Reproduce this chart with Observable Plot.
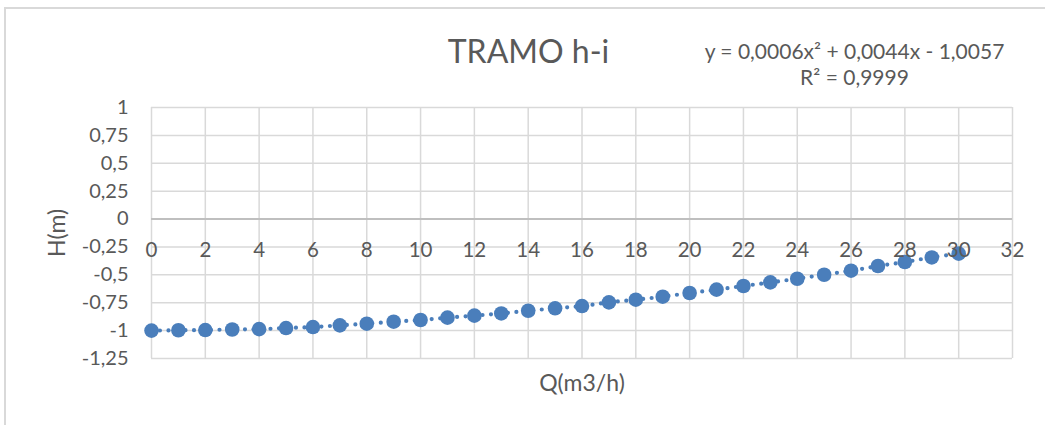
<!DOCTYPE html>
<html>
<head>
<meta charset="utf-8">
<script src="https://cdn.jsdelivr.net/npm/d3@7"></script>
<script src="https://cdn.jsdelivr.net/npm/@observablehq/plot@0.6"></script>
<style>
  html, body { margin: 0; padding: 0; background: #fff; }
  #wrap { position: relative; width: 1045px; height: 425px; overflow: hidden; }
  #border { position: absolute; left: 4px; top: 7px; width: 1200px; height: 600px; border: 2px solid #d9d9d9; box-sizing: border-box; }
  #chart { position: absolute; left: 0; top: 0; }
</style>
</head>
<body>
<div id="wrap"><div id="border"></div><div id="chart"></div></div>
<script>
const Q = [0,1,2,3,4,5,6,7,8,9,10,11,12,13,14,15,16,17,18,19,20,21,22,23,24,25,26,27,28,29,30];
const H = [-1.0,-0.997,-0.995,-0.99,-0.987,-0.977,-0.968,-0.953,-0.938,-0.92,-0.905,-0.884,-0.866,-0.846,-0.822,-0.80,-0.78,-0.747,-0.723,-0.696,-0.663,-0.633,-0.60,-0.568,-0.535,-0.499,-0.463,-0.421,-0.385,-0.344,-0.31];
const xTicks = [0,2,4,6,8,10,12,14,16,18,20,22,24,26,28,30,32];
const yTicks = [1,0.75,0.5,0.25,0,-0.25,-0.5,-0.75,-1,-1.25];
const yTickLabels = ["1","0,75","0,5","0,25","0","-0,25","-0,5","-0,75","-1","-1,25"];
const title = "TRAMO h-i";
const equation = "y = 0,0006x² + 0,0044x - 1,0057";
const rSquared = "R² = 0,9999";
const xLabel = "Q(m3/h)";
const yLabel = "H(m)";

const data = Q.map((q, i) => ({q, h: H[i]}));
const blue = "#4a7ebb";
const grey = "#595959";

const chart = Plot.plot({
  width: 1045,
  height: 425,
  marginLeft: 151,
  marginRight: 33,
  marginTop: 107,
  marginBottom: 67,
  style: {fontFamily: "Lato, sans-serif", color: grey, background: "transparent", overflow: "visible"},
  x: {domain: [0, 32], axis: null},
  y: {domain: [-1.25, 1]},
  marks: [
    Plot.gridX(xTicks, {stroke: "#d9d9d9", strokeOpacity: 1, strokeWidth: 1.5}),
    Plot.gridY(yTicks, {stroke: "#d9d9d9", strokeOpacity: 1, strokeWidth: 1.5}),
    Plot.ruleY([0], {stroke: "#bfbfbf", strokeWidth: 2}),
    Plot.axisY(yTicks, {tickSize: 0, tickPadding: 23, tickFormat: d => yTickLabels[yTicks.indexOf(d)], fontSize: 20, label: null}),
    Plot.line(data, {x: "q", y: "h", curve: "catmull-rom", stroke: blue, strokeWidth: 4.2, strokeDasharray: "0,8.5", strokeLinecap: "round"}),
    Plot.dot(data, {x: "q", y: "h", r: 7.3, fill: blue, stroke: "none"}),
    Plot.text(xTicks, {x: d => d, y: () => 0, dy: 31, text: d => String(d), fontSize: 20.5, fill: grey}),
    Plot.text([title], {frameAnchor: "top-left", textAnchor: "middle", lineAnchor: "middle", dx: 377, dy: -55, text: d => d, fontSize: 32, fill: grey}),
    Plot.text([equation], {frameAnchor: "top-left", textAnchor: "middle", lineAnchor: "middle", dx: 703, dy: -55, text: d => d, fontSize: 21, fill: grey}),
    Plot.text([rSquared], {frameAnchor: "top-left", textAnchor: "middle", lineAnchor: "middle", dx: 703, dy: -29, text: d => d, fontSize: 21, fill: grey}),
    Plot.text([xLabel], {frameAnchor: "bottom", lineAnchor: "middle", dy: 25, text: d => d, fontSize: 23, fill: grey}),
    Plot.text([yLabel], {frameAnchor: "left", textAnchor: "middle", dx: -94, rotate: -90, text: d => d, fontSize: 23, fill: grey, letterSpacing: "1px"})
  ]
});
document.getElementById("chart").appendChild(chart);
</script>
</body>
</html>
